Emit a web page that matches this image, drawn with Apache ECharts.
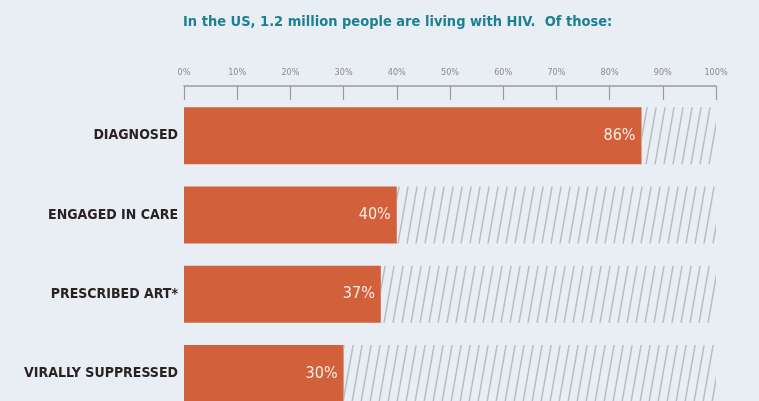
<!DOCTYPE html>
<html>
<head>
<meta charset="utf-8">
<style>
  html, body { margin: 0; padding: 0; background: #e9eef5; }
  #chart { width: 759px; height: 401px; }
</style>
<script src="https://cdn.jsdelivr.net/npm/echarts@6/dist/echarts.min.js"></script>
</head>
<body>
<div id="chart"></div>
<script>
// HIV care continuum, share of people living with HIV in the US
const titleText = 'In the US, 1.2 million people are living with HIV.  Of those:';
const stages = ['DIAGNOSED', 'ENGAGED IN CARE', 'PRESCRIBED ART*', 'VIRALLY SUPPRESSED'];
const shares = [86, 40, 37, 30];
const axisMax = 100;

// the part of each bar up to 100% is shown with grey diagonal hatching
const remainder = shares.map(v => axisMax - v);

function hatchPattern() {
  const w = 9, h = 51;
  const c = document.createElement('canvas');
  c.width = w; c.height = h;
  const ctx = c.getContext('2d');
  ctx.strokeStyle = '#b8bcc4';
  ctx.lineWidth = 1.5;
  for (let k = -1; k <= 1; k++) {
    ctx.beginPath();
    ctx.moveTo(k * w, h);
    ctx.lineTo(k * w + w, 0);
    ctx.stroke();
  }
  return c;
}

const narrow = '"DejaVu Sans Condensed", "Liberation Sans Narrow", sans-serif';
const chart = echarts.init(document.getElementById('chart'), null, { renderer: 'canvas' });

chart.setOption({
  backgroundColor: '#e9eef5',
  animation: false,
  title: {
    text: titleText,
    left: 178,
    top: 10,
    textStyle: {
      fontFamily: narrow,
      fontWeight: 'bold',
      fontSize: 14.5,
      color: '#1c8090'
    }
  },
  grid: { left: 184, right: 43, top: 96, height: 317, containLabel: false, outerBoundsMode: 'none' },
  xAxis: {
    type: 'value',
    position: 'top',
    min: 0,
    max: axisMax,
    interval: 10,
    offset: 10,
    axisLine: { show: true, lineStyle: { color: '#9a9a9a', width: 1.5 } },
    axisTick: { show: true, inside: true, length: 14, lineStyle: { color: '#9a9a9a', width: 1.2 } },
    axisLabel: {
      formatter: '{value}%',
      fontFamily: narrow,
      fontSize: 9,
      color: '#8a8a8a',
      margin: 9
    },
    splitLine: { show: false }
  },
  yAxis: {
    type: 'category',
    inverse: true,
    data: stages,
    axisLine: { show: false },
    axisTick: { show: false },
    axisLabel: {
      fontFamily: narrow,
      fontWeight: 'bold',
      fontSize: 14,
      color: '#2a2222',
      margin: 6
    }
  },
  series: [
    {
      type: 'bar',
      stack: 'total',
      data: shares,
      barWidth: 57,
      itemStyle: { color: '#d2603a' },
      label: {
        show: true,
        position: 'insideRight',
        distance: 6,
        formatter: '{c}%',
        fontFamily: narrow,
        fontSize: 16,
        color: '#fbeee8'
      }
    },
    {
      type: 'bar',
      stack: 'total',
      data: remainder,
      barWidth: 57,
      silent: true,
      itemStyle: { color: { image: hatchPattern(), repeat: 'repeat' } }
    }
  ]
});
</script>
</body>
</html>
